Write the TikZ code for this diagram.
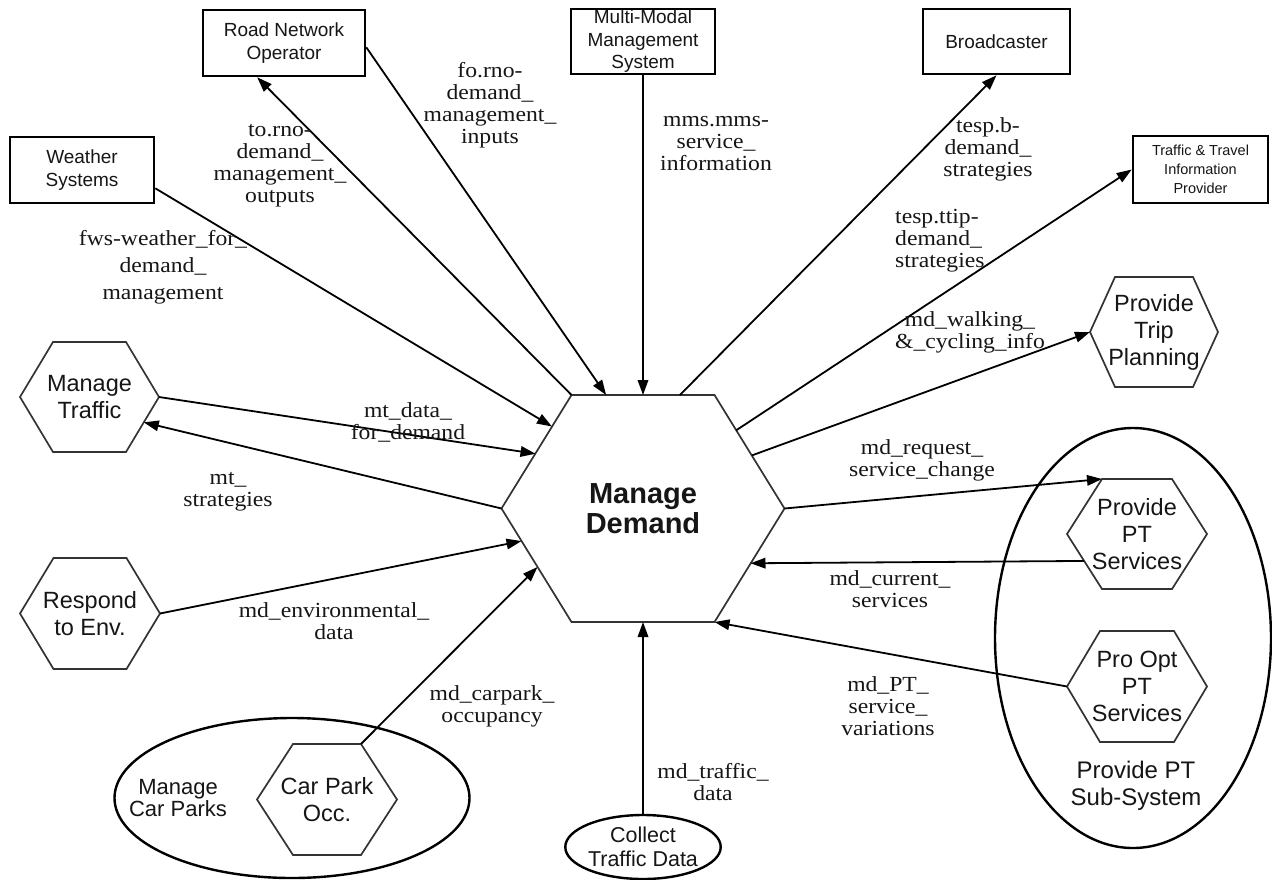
\documentclass[tikz,border=0pt]{standalone}
\usepackage{fontspec}
\setmainfont{Liberation Serif}
\newfontfamily\flowfont[FakeStretch=1.1]{Liberation Serif}
\newfontfamily\boxfont{Liberation Sans}
\usetikzlibrary{arrows.meta,shapes.geometric}

\definecolor{ink}{HTML}{161616}
\definecolor{hexline}{HTML}{333333}

\makeatletter
% Flat-topped hexagon: minimum width/height give the outer size,
% "hex inset" is the horizontal run of each slanted side.
\pgfkeys{/pgf/hex inset/.initial=30pt}
\pgfdeclareshape{flathex}{%
  \savedanchor\hexhalf{%
    \pgfmathsetlength\pgf@x{\pgfkeysvalueof{/pgf/minimum width}}%
    \pgfmathsetlength\pgf@y{\pgfkeysvalueof{/pgf/minimum height}}%
    \pgf@x=.5\pgf@x
    \pgf@y=.5\pgf@y
  }%
  \saveddimen\hexinset{%
    \pgfmathsetlength\pgf@x{\pgfkeysvalueof{/pgf/hex inset}}%
  }%
  \anchor{center}{\pgfpointorigin}%
  \anchor{text}{%
    \pgf@x=-.5\wd\pgfnodeparttextbox
    \pgf@y=-.5\ht\pgfnodeparttextbox
    \advance\pgf@y by .5\dp\pgfnodeparttextbox
  }%
  \anchor{north}{\hexhalf\pgf@x=0pt}%
  \anchor{south}{\hexhalf\pgf@x=0pt\pgf@y=-\pgf@y}%
  \anchor{east}{\hexhalf\pgf@y=0pt}%
  \anchor{west}{\hexhalf\pgf@x=-\pgf@x\pgf@y=0pt}%
  \anchor{north east}{\hexhalf\advance\pgf@x by -\hexinset}%
  \anchor{north west}{\hexhalf\advance\pgf@x by -\hexinset\pgf@x=-\pgf@x}%
  \anchor{south east}{\hexhalf\advance\pgf@x by -\hexinset\pgf@y=-\pgf@y}%
  \anchor{south west}{\hexhalf\advance\pgf@x by -\hexinset\pgf@x=-\pgf@x\pgf@y=-\pgf@y}%
  \anchorborder{%
    \edef\hx@dx{\the\pgf@x}%
    \edef\hx@dy{\the\pgf@y}%
    \hexhalf
    \edef\hx@w{\the\pgf@x}%
    \edef\hx@h{\the\pgf@y}%
    \pgfmathsetmacro\hx@r{max(abs(\hx@dy)/\hx@h,abs(\hx@dx)/\hx@w+abs(\hx@dy)/\hx@h*\hexinset/\hx@w)}%
    \pgfmathsetlength\pgf@x{\hx@dx/\hx@r}%
    \pgfmathsetlength\pgf@y{\hx@dy/\hx@r}%
  }%
  \backgroundpath{%
    \hexhalf
    \edef\hx@w{\the\pgf@x}%
    \edef\hx@h{\the\pgf@y}%
    \pgf@xa=\pgf@x
    \advance\pgf@xa by -\hexinset
    \edef\hx@t{\the\pgf@xa}%
    \pgfpathmoveto{\pgfqpoint{\hx@w}{0pt}}%
    \pgfpathlineto{\pgfqpoint{\hx@t}{\hx@h}}%
    \pgfpathlineto{\pgfqpoint{-\hx@t}{\hx@h}}%
    \pgfpathlineto{\pgfqpoint{-\hx@w}{0pt}}%
    \pgfpathlineto{\pgfqpoint{-\hx@t}{-\hx@h}}%
    \pgfpathlineto{\pgfqpoint{\hx@t}{-\hx@h}}%
    \pgfpathclose
  }%
}
\makeatother

\tikzset{
  hexnode/.style={shape=flathex, draw=hexline, line width=1.7pt, inner sep=0pt,
    align=center, text=ink, font=\boxfont\fontsize{23.5}{27}\selectfont},
  extbox/.style={draw=black, line width=2.6pt, inner sep=0pt, align=center,
    text=ink, font=\boxfont\fontsize{19}{22.5}\selectfont},
  groupoval/.style={ellipse, draw=black, line width=2.4pt, inner sep=0pt},
  grouptext/.style={inner sep=0pt, align=center, text=ink},
  flow/.style={draw=black, line width=1.8pt, -{Triangle[length=15pt,width=10.5pt]}},
  flowlbl/.style={inner sep=0pt, align=center, text=ink,
    font=\flowfont\fontsize{21.5}{22}\selectfont},
}

\begin{document}
\begin{tikzpicture}[x=1pt,y=-1pt]
  \fill[white] (0,0) rectangle (1272,879);
  \useasboundingbox (0,0) rectangle (1272,879);

  % grouping ovals
  \node[groupoval, minimum width=355pt, minimum height=160pt] (mcp) at (292,798) {};
  \node[groupoval, minimum width=276pt, minimum height=420pt] (ptsub) at (1133,638) {};
  \node[groupoval, minimum width=143pt, minimum height=64pt, align=center, text=ink,
        font=\boxfont\fontsize{21.5}{24}\selectfont] (ctd) at (643,847) {Collect\\Traffic Data};
  \node[grouptext, font=\boxfont\fontsize{22}{22.5}\selectfont] (mcpl) at (178,798) {Manage\\Car Parks};
  \node[grouptext, font=\boxfont\fontsize{24}{27}\selectfont] (ptsubl) at (1136,786) {Provide PT\\Sub-System};

  % processes
  \node[hexnode, minimum width=283pt, minimum height=227pt, hex inset=70pt,
        font=\boxfont\bfseries\fontsize{29}{30}\selectfont] (md) at (643,508.5) {Manage\\Demand};
  \node[hexnode, minimum width=139pt, minimum height=110pt, hex inset=33pt] (mt) at (89.5,397) {Manage\\Traffic};
  \node[hexnode, minimum width=140pt, minimum height=111pt, hex inset=33.5pt] (re) at (90,613.5) {Respond\\to Env.};
  \node[hexnode, minimum width=128pt, minimum height=110pt, hex inset=25pt] (tp) at (1154,332) {Provide\\Trip\\Planning};
  \node[hexnode, minimum width=140pt, minimum height=110pt, hex inset=35pt] (pts) at (1137,534) {Provide\\PT\\Services};
  \node[hexnode, minimum width=140pt, minimum height=111pt, hex inset=33pt] (pos) at (1137,686.5) {Pro Opt\\PT\\Services};
  \node[hexnode, minimum width=140pt, minimum height=111pt, hex inset=36pt] (cp) at (327,799.5) {Car Park\\Occ.};

  % external terminators
  \node[extbox, minimum width=162pt, minimum height=66pt] (rno) at (284,43) {Road Network\\Operator};
  \node[extbox, minimum width=144pt, minimum height=66pt] (ws) at (82,170) {Weather\\Systems};
  \node[extbox, minimum width=144pt, minimum height=65pt] (mms) at (643,41.5) {Multi-Modal\\Management\\System};
  \node[extbox, minimum width=147pt, minimum height=65pt] (bc) at (996.5,41.5) {Broadcaster};
  \node[extbox, minimum width=135pt, minimum height=67pt,
        font=\boxfont\fontsize{14.5}{19}\selectfont] (ttip) at (1200.5,169.5) {Traffic \& Travel\\Information\\Provider};

  % data flows
  \draw[flow] (ws.-14) -- (md.138);
  \draw[flow] (md.north west) -- (rno.-128);
  \draw[flow] (rno.-3) -- (md.108);
  \draw[flow] (mms.south) -- (md.north);
  \draw[flow] (md.72) -- (bc.south);
  \draw[flow] (md.40) -- (ttip.west);
  \draw[flow] (md.26) -- (tp.west);
  \draw[flow] (md.east) -- (pts.north west);
  \draw[flow] (pts.207) -- (md.-27);
  \draw[flow] (pos.west) -- (md.south east);
  \draw[flow] (ctd.north) -- (md.south);
  \draw[flow] (cp.north east) -- (md.209);
  \draw[flow] (re.east) -- (md.195);
  \draw[flow] (mt.east) -- (md.153);
  \draw[flow] (md.west) -- (mt.-25);

  % flow names
  \node[flowlbl, font=\flowfont\fontsize{21.5}{27}\selectfont] (lfws) at (163,267) {fws-weather\_for\_\\demand\_\\management};
  \node[flowlbl] (ltorno) at (280,166) {to.rno-\\demand\_\\management\_\\outputs};
  \node[flowlbl] (lforno) at (490,105.5) {fo.rno-\\demand\_\\management\_\\inputs};
  \node[flowlbl] (lmms) at (716,143.5) {mms.mms-\\service\_\\information};
  \node[flowlbl] (ltespb) at (988,149.5) {tesp.b-\\demand\_\\strategies};
  \node[flowlbl, align=left, anchor=west] (lttip) at (895,241) {tesp.ttip-\\demand\_\\strategies};
  \node[flowlbl] (lwalk) at (970,332.5) {md\_walking\_\\\&\_cycling\_info};
  \node[flowlbl] (lmtdata) at (408,422.5) {mt\_data\_\\for\_demand};
  \node[flowlbl] (lmtstrat) at (228,492) {mt\_\\strategies};
  \node[flowlbl] (lenv) at (334,621) {md\_environmental\_\\data};
  \node[flowlbl] (lcarpark) at (492,706) {md\_carpark\_\\occupancy};
  \node[flowlbl] (ltraffic) at (713,782.5) {md\_traffic\_\\data};
  \node[flowlbl] (lptvar) at (888,706.5) {md\_PT\_\\service\_\\variations};
  \node[flowlbl] (lcurrent) at (890,589) {md\_current\_\\services};
  \node[flowlbl] (lrequest) at (922,460) {md\_request\_\\service\_change};
\end{tikzpicture}
\end{document}
